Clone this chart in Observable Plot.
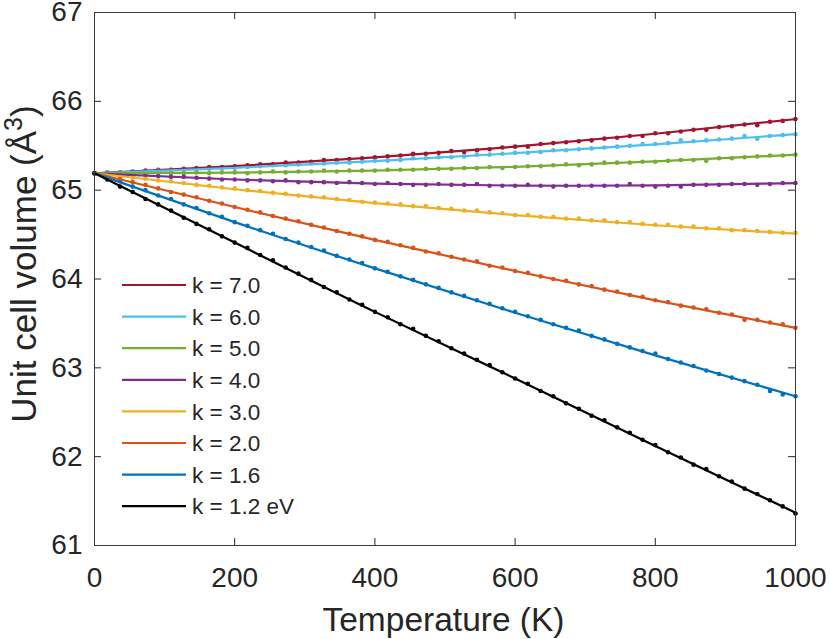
<!DOCTYPE html>
<html>
<head>
<meta charset="utf-8">
<script src="https://cdn.jsdelivr.net/npm/d3@7"></script>
<script src="https://cdn.jsdelivr.net/npm/@observablehq/plot@0.6"></script>
<style>
  html, body { margin: 0; padding: 0; background: #ffffff; }
  #chart svg { display: block; }
</style>
</head>
<body>
<div id="chart"></div>
<script>
// ---------- data ----------
const temperature = [
  0, 18.2, 36.4, 54.5, 72.7, 90.9, 109.1, 127.3, 145.5, 163.6, 181.8,
  200, 218.2, 236.4, 254.5, 272.7, 290.9, 309.1, 327.3, 345.5, 363.6, 381.8,
  400, 418.2, 436.4, 454.5, 472.7, 490.9, 509.1, 527.3, 545.5, 563.6, 581.8,
  600, 618.2, 636.4, 654.5, 672.7, 690.9, 709.1, 727.3, 745.5, 763.6, 781.8,
  800, 818.2, 836.4, 854.5, 872.7, 890.9, 909.1, 927.3, 945.5, 963.6, 981.8,
  1000
];
const fitTemperature = [0, 200, 400, 600, 800, 1000];

const seriesLabels = ["k = 7.0", "k = 6.0", "k = 5.0", "k = 4.0", "k = 3.0", "k = 2.0", "k = 1.6", "k = 1.2 eV"];
const seriesColors = ["#A2142F", "#4DBEEE", "#77AC30", "#7E2F8E", "#EDB120", "#D95319", "#0072BD", "#000000"];

// simulated points (dots)
const volK70 = [
  65.19, 65.20, 65.20, 65.21, 65.22, 65.23, 65.23, 65.24, 65.25, 65.26, 65.26,
  65.27, 65.28, 65.29, 65.29, 65.31, 65.31, 65.32, 65.34, 65.34, 65.35, 65.36,
  65.37, 65.38, 65.39, 65.41, 65.41, 65.42, 65.44, 65.43, 65.45, 65.46, 65.48,
  65.49, 65.49, 65.52, 65.53, 65.54, 65.55, 65.56, 65.58, 65.59, 65.61, 65.61,
  65.64, 65.64, 65.66, 65.68, 65.68, 65.71, 65.72, 65.74, 65.73, 65.77, 65.78,
  65.80
];
const volK60 = [
  65.19, 65.20, 65.20, 65.21, 65.21, 65.22, 65.23, 65.23, 65.24, 65.24, 65.25,
  65.25, 65.26, 65.27, 65.28, 65.28, 65.29, 65.30, 65.30, 65.31, 65.31, 65.32,
  65.33, 65.33, 65.34, 65.36, 65.36, 65.37, 65.37, 65.38, 65.40, 65.40, 65.41,
  65.42, 65.42, 65.43, 65.45, 65.45, 65.46, 65.47, 65.48, 65.49, 65.50, 65.52,
  65.52, 65.53, 65.56, 65.55, 65.56, 65.57, 65.58, 65.61, 65.58, 65.61, 65.62,
  65.63
];
const volK50 = [
  65.19, 65.19, 65.20, 65.19, 65.19, 65.20, 65.19, 65.19, 65.20, 65.19, 65.20,
  65.20, 65.19, 65.20, 65.21, 65.20, 65.21, 65.21, 65.22, 65.21, 65.22, 65.22,
  65.22, 65.23, 65.23, 65.23, 65.24, 65.24, 65.24, 65.25, 65.25, 65.26, 65.25,
  65.26, 65.27, 65.27, 65.28, 65.29, 65.28, 65.29, 65.31, 65.31, 65.31, 65.32,
  65.32, 65.33, 65.34, 65.34, 65.33, 65.36, 65.36, 65.37, 65.38, 65.39, 65.39,
  65.40
];
const volK40 = [
  65.19, 65.18, 65.18, 65.17, 65.17, 65.16, 65.15, 65.15, 65.14, 65.13, 65.12,
  65.12, 65.11, 65.11, 65.10, 65.11, 65.09, 65.09, 65.09, 65.08, 65.09, 65.08,
  65.07, 65.08, 65.07, 65.06, 65.06, 65.07, 65.06, 65.06, 65.07, 65.05, 65.05,
  65.05, 65.06, 65.05, 65.04, 65.05, 65.05, 65.05, 65.05, 65.05, 65.07, 65.05,
  65.04, 65.05, 65.04, 65.06, 65.06, 65.06, 65.07, 65.07, 65.06, 65.07, 65.08,
  65.08
];
const volK30 = [
  65.19, 65.18, 65.16, 65.14, 65.13, 65.11, 65.10, 65.08, 65.06, 65.05, 65.03,
  65.02, 65.00, 64.99, 64.97, 64.96, 64.94, 64.93, 64.92, 64.90, 64.89, 64.87,
  64.86, 64.85, 64.84, 64.82, 64.82, 64.80, 64.79, 64.77, 64.77, 64.75, 64.74,
  64.72, 64.72, 64.70, 64.70, 64.68, 64.68, 64.66, 64.66, 64.64, 64.64, 64.62,
  64.61, 64.61, 64.59, 64.59, 64.57, 64.57, 64.55, 64.55, 64.54, 64.53, 64.52,
  64.52
];
const volK20 = [
  65.19, 65.16, 65.13, 65.09, 65.06, 65.02, 64.98, 64.95, 64.92, 64.88, 64.85,
  64.81, 64.78, 64.75, 64.71, 64.68, 64.65, 64.61, 64.58, 64.54, 64.51, 64.48,
  64.44, 64.42, 64.38, 64.35, 64.31, 64.29, 64.25, 64.22, 64.20, 64.15, 64.13,
  64.09, 64.07, 64.03, 64.00, 63.98, 63.94, 63.92, 63.88, 63.86, 63.82, 63.80,
  63.76, 63.74, 63.70, 63.68, 63.66, 63.62, 63.60, 63.54, 63.54, 63.51, 63.49,
  63.45
];
const volK16 = [
  65.19, 65.14, 65.10, 65.04, 65.00, 64.94, 64.90, 64.84, 64.80, 64.74, 64.70,
  64.64, 64.60, 64.55, 64.51, 64.45, 64.41, 64.36, 64.32, 64.26, 64.22, 64.18,
  64.12, 64.08, 64.03, 63.99, 63.94, 63.90, 63.85, 63.81, 63.76, 63.72, 63.67,
  63.63, 63.58, 63.54, 63.49, 63.45, 63.42, 63.36, 63.32, 63.27, 63.23, 63.19,
  63.16, 63.10, 63.06, 63.02, 62.97, 62.93, 62.89, 62.85, 62.81, 62.74, 62.70,
  62.68
];
const volK12 = [
  65.19, 65.12, 65.04, 64.98, 64.90, 64.84, 64.77, 64.69, 64.62, 64.56, 64.48,
  64.41, 64.35, 64.27, 64.21, 64.13, 64.06, 63.99, 63.91, 63.85, 63.77, 63.71,
  63.63, 63.57, 63.49, 63.44, 63.36, 63.30, 63.22, 63.16, 63.09, 63.03, 62.95,
  62.88, 62.82, 62.74, 62.68, 62.60, 62.54, 62.46, 62.41, 62.33, 62.27, 62.19,
  62.13, 62.05, 61.99, 61.91, 61.86, 61.78, 61.72, 61.64, 61.58, 61.51, 61.44,
  61.36
];

// fitted curves (lines), read at T = 0, 200, ..., 1000
const fitK70 = [65.19, 65.27, 65.37, 65.49, 65.635, 65.80];
const fitK60 = [65.19, 65.252, 65.328, 65.416, 65.516, 65.63];
const fitK50 = [65.19, 65.197, 65.221, 65.263, 65.323, 65.40];
const fitK40 = [65.19, 65.12, 65.074, 65.052, 65.054, 65.08];
const fitK30 = [65.19, 65.01, 64.855, 64.72, 64.605, 64.51];
const fitK20 = [65.19, 64.81, 64.44, 64.09, 63.76, 63.45];
const fitK16 = [65.19, 64.64, 64.12, 63.62, 63.14, 62.68];
const fitK12 = [65.19, 64.41, 63.63, 62.88, 62.12, 61.37];

const xTicks = [0, 200, 400, 600, 800, 1000];
const yTicks = [61, 62, 63, 64, 65, 66, 67];
const xLabel = "Temperature (K)";
const yLabelMain = "Unit cell volume (Å";
const yLabelSup = "3";
const yLabelEnd = ")";

// ---------- build tables ----------
const dotSeries = [volK70, volK60, volK50, volK40, volK30, volK20, volK16, volK12];
const fitSeries = [fitK70, fitK60, fitK50, fitK40, fitK30, fitK20, fitK16, fitK12];
const dotRows = seriesLabels.flatMap((k, s) => temperature.map((t, i) => ({T: t, V: dotSeries[s][i], k})));
const fitRows = seriesLabels.flatMap((k, s) => fitTemperature.map((t, i) => ({T: t, V: fitSeries[s][i], k})));

// ---------- layout ----------
const W = 830, H = 639;
const mL = 94, mR = 35, mT = 12, mB = 94;
const innerW = W - mL - mR, innerH = H - mT - mB;
const tickLen = 7;
const ink = "#262626";
const font = "'Liberation Sans', Arial, Helvetica, sans-serif";

const plot = Plot.plot({
  width: W,
  height: H,
  marginLeft: mL,
  marginRight: mR,
  marginTop: mT,
  marginBottom: mB,
  style: {fontFamily: font, color: ink, background: "#ffffff", overflow: "visible"},
  x: {domain: [0, 1000]},
  y: {domain: [61, 67]},
  color: {domain: seriesLabels, range: seriesColors},
  marks: [
    Plot.axisX({ticks: xTicks, tickSize: 0, tickPadding: 22, fontSize: 28, label: null, tickFormat: d3.format("d")}),
    Plot.axisY({ticks: yTicks, tickSize: 0, tickPadding: 12, fontSize: 28, label: null, tickFormat: d3.format("d")}),
    // inward ticks on all four sides (MATLAB box style)
    Plot.ruleX(xTicks, {x: d => d, insetTop: innerH - tickLen, stroke: ink, strokeWidth: 1}),
    Plot.ruleX(xTicks, {x: d => d, insetBottom: innerH - tickLen, stroke: ink, strokeWidth: 1}),
    Plot.ruleY(yTicks, {y: d => d, insetRight: innerW - tickLen, stroke: ink, strokeWidth: 1}),
    Plot.ruleY(yTicks, {y: d => d, insetLeft: innerW - tickLen, stroke: ink, strokeWidth: 1}),
    Plot.dot(dotRows, {x: "T", y: "V", fill: "k", r: 2.3, stroke: null}),
    Plot.line(fitRows, {x: "T", y: "V", z: "k", stroke: "k", strokeWidth: 2.2, curve: "natural"}),
    Plot.frame({stroke: "#3a3a3a", strokeWidth: 1})
  ]
});

const svg = d3.select(plot);

// x label
svg.append("text")
  .attr("x", mL + innerW / 2 - 1)
  .attr("y", 631)
  .attr("text-anchor", "middle")
  .attr("font-family", font)
  .attr("font-size", 33.5)
  .attr("fill", ink)
  .text(xLabel);

// y label with superscript
const yl = svg.append("text")
  .attr("transform", `translate(36, 264) rotate(-90)`)
  .attr("text-anchor", "middle")
  .attr("font-family", font)
  .attr("font-size", 35)
  .attr("fill", ink);
yl.append("tspan").text(yLabelMain);
yl.append("tspan").attr("font-size", 25).attr("dy", -14).text(yLabelSup);
yl.append("tspan").attr("dy", 14).text(yLabelEnd);

// legend (no box), inside lower-left of the axes
const lg = svg.append("g")
  .attr("font-family", font)
  .attr("font-size", 22.5)
  .attr("fill", ink)
  .attr("text-anchor", "start");
seriesLabels.forEach((lab, i) => {
  const yy = 285 + 31.6 * i;
  lg.append("line")
    .attr("x1", mL + 28).attr("x2", mL + 92)
    .attr("y1", yy).attr("y2", yy)
    .attr("stroke", seriesColors[i]).attr("stroke-width", 2.2);
  lg.append("text")
    .attr("x", mL + 98).attr("y", yy)
    .attr("dy", "0.36em")
    .attr("text-anchor", "start")
    .text(lab);
});

document.getElementById("chart").appendChild(plot);
</script>
</body>
</html>
